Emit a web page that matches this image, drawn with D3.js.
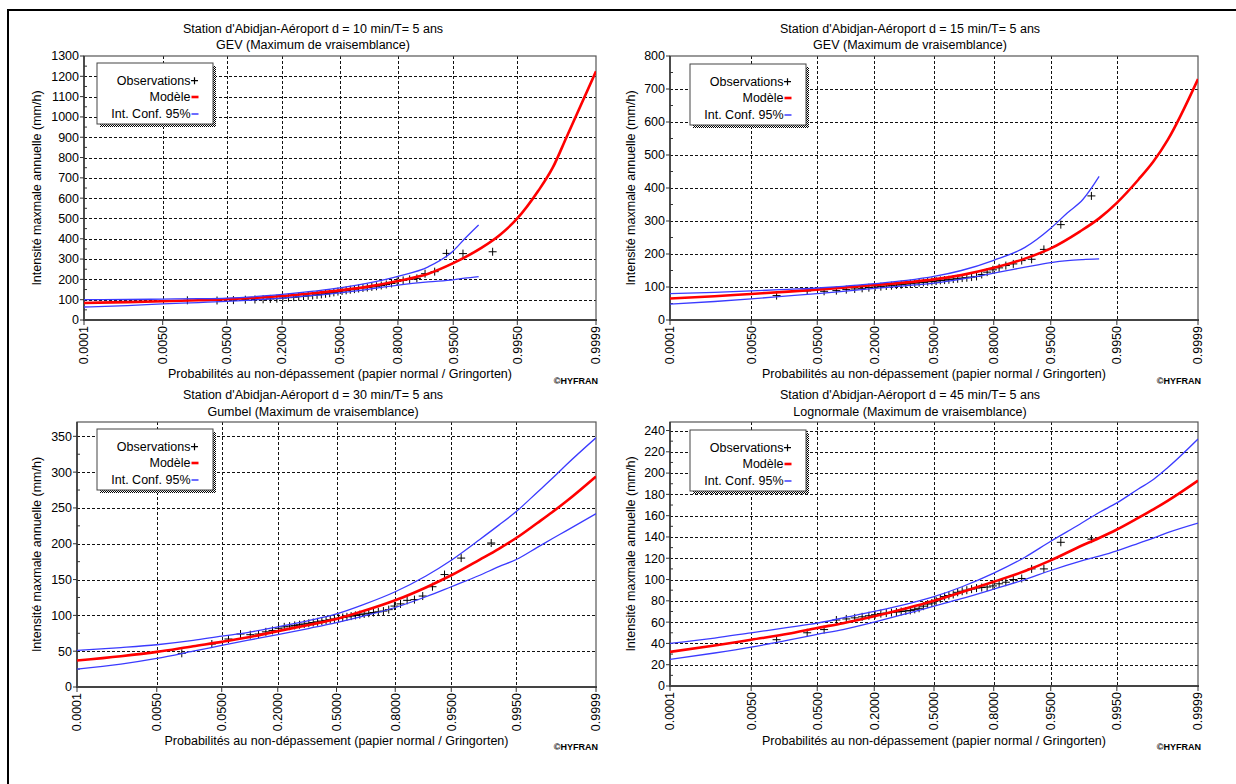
<!DOCTYPE html>
<html><head><meta charset="utf-8">
<script src="https://cdn.jsdelivr.net/npm/d3@7"></script>
<style>
body{margin:0;background:#fff;}
svg{display:block;}
text{font-family:"Liberation Sans",Arial,sans-serif;fill:#000;}
</style>
</head><body>
<svg id="c" width="1236" height="784"></svg>
<script>
// ---------- DATA ----------
const probTicks = [0.0001, 0.005, 0.05, 0.2, 0.5, 0.8, 0.95, 0.995, 0.9999];
const probTickLabels = ["0.0001","0.0050","0.0500","0.2000","0.5000","0.8000","0.9500","0.9950","0.9999"];

// probabilities where the model / confidence curves were read
const curveProbs = [0.0001, 0.001, 0.005, 0.02, 0.05, 0.1, 0.2, 0.35, 0.5, 0.65, 0.8, 0.9, 0.95, 0.98, 0.99, 0.995, 0.998, 0.999, 0.9995, 0.9999];
// Gringorten plotting positions of the 42 observations
const obsProbs = [0.0133, 0.0370, 0.0608, 0.0845, 0.1083, 0.1320, 0.1557, 0.1795, 0.2032, 0.2270, 0.2507, 0.2745, 0.2982, 0.3219, 0.3457, 0.3694, 0.3932, 0.4169, 0.4406, 0.4644, 0.4881, 0.5119, 0.5356, 0.5594, 0.5831, 0.6068, 0.6306, 0.6543, 0.6781, 0.7018, 0.7255, 0.7493, 0.7730, 0.7968, 0.8205, 0.8443, 0.8680, 0.8917, 0.9155, 0.9392, 0.9630, 0.9867];

// d = 10 min, GEV
const title10 = ["Station d'Abidjan-Aéroport d = 10 min/T= 5 ans", "GEV (Maximum de vraisemblance)"];
const yTicks10 = [0,100,200,300,400,500,600,700,800,900,1000,1100,1200,1300];
const model10 = [84, 88, 92, 97, 102, 108, 118, 132, 146, 163, 192, 228, 280, 355, 420, 500, 635, 750, 900, 1225];
const ciProbs10 = [0.0001, 0.001, 0.005, 0.02, 0.05, 0.1, 0.2, 0.35, 0.5, 0.65, 0.8, 0.9, 0.95, 0.965, 0.978];
const upper10 = [100, 101, 103, 105, 108, 114, 126, 142, 158, 180, 215, 262, 340, 400, 468];
const lower10 = [64, 71, 79, 86, 92, 98, 108, 121, 134, 150, 172, 188, 198, 206, 214];
const obs10 = [97, 96, 98, 100, 101, 102, 104, 105, 108, 110, 112, 115, 117, 119, 121, 124, 126, 129, 132, 136, 140, 143, 146, 149, 152, 155, 158, 160, 163, 166, 170, 175, 180, 190, 195, 200, 205, 228, 238, 328, 327, 336];

// d = 15 min, GEV
const title15 = ["Station d'Abidjan-Aéroport d = 15 min/T= 5 ans", "GEV (Maximum de vraisemblance)"];
const yTicks15 = [0,100,200,300,400,500,600,700,800];
const model15 = [65, 72, 79, 86, 92, 98, 106, 114, 123, 136, 158, 186, 217, 268, 308, 355, 425, 480, 545, 730];
const ciProbs15 = [0.0001, 0.001, 0.005, 0.02, 0.05, 0.1, 0.2, 0.35, 0.5, 0.65, 0.8, 0.9, 0.95, 0.97, 0.982, 0.99];
const upper15 = [80, 84, 88, 93, 97, 102, 110, 120, 132, 150, 181, 220, 278, 325, 365, 435];
const lower15 = [48, 56, 64, 73, 80, 87, 96, 104, 112, 124, 142, 160, 174, 180, 183, 185];
const obs15 = [74, 88, 87, 89, 92, 94, 96, 98, 100, 101, 103, 104, 106, 107, 109, 110, 112, 113, 114, 116, 117, 118, 120, 121, 122, 124, 125, 127, 128, 130, 132, 138, 145, 152, 158, 165, 170, 180, 184, 214, 289, 376];

// d = 30 min, Gumbel
const title30 = ["Station d'Abidjan-Aéroport d = 30 min/T= 5 ans", "Gumbel (Maximum de vraisemblance)"];
const yTicks30 = [0,50,100,150,200,250,300,350];
const model30 = [37, 43, 49, 57, 63, 69, 78, 87, 95, 106, 121, 139, 156, 178, 193, 208, 229, 244, 259, 294];
const upper30 = [51, 55, 59, 65, 71, 76, 84, 93, 102, 115, 133, 155, 177, 206, 226, 245, 272, 291, 310, 348];
const lower30 = [25, 32, 40, 50, 58, 65, 73, 82, 90, 99, 111, 126, 140, 156, 168, 178, 195, 207, 218, 242];
const obs30 = [47, 60, 67, 74, 73, 74, 77, 79, 82, 84, 85, 86, 87, 88, 89, 90, 91, 92, 93, 94, 95, 96, 97, 98, 99, 100, 101, 102, 103, 104, 105, 106, 108, 113, 116, 121, 122, 127, 140, 157, 180, 201];

// d = 45 min, Lognormale
const title45 = ["Station d'Abidjan-Aéroport d = 45 min/T= 5 ans", "Lognormale (Maximum de vraisemblance)"];
const yTicks45 = [0,20,40,60,80,100,120,140,160,180,200,220,240];
const model45 = [32, 38, 43.5, 49, 54.5, 59, 65.5, 73, 80, 88, 98, 108, 118, 131, 139, 147, 158, 166, 174, 193];
const upper45 = [40, 45, 50, 55, 59, 64, 70, 77, 84, 93, 106, 121, 136, 152, 163, 172, 185, 194, 205, 232];
const lower45 = [25, 31, 36.5, 43, 48.5, 53, 60, 68, 75, 82, 91, 100, 108.5, 117, 122, 127, 134, 139, 144, 153];
const obs45 = [43.5, 50, 53, 62, 63, 64, 65, 66, 67, 68, 68.5, 69, 69.5, 70, 70.5, 71, 72, 73, 75, 77, 78, 80, 82, 84, 85, 86, 88, 89, 90, 91, 92, 92.5, 93, 94, 96, 97.5, 100, 101, 110, 110, 135, 138];

const yLabel = "Intensité maxmale annuelle (mm/h)";
const xLabel = "Probabilités au non-dépassement (papier normal / Gringorten)";
const legendLabels = ["Observations", "Modèle", "Int. Conf. 95%"];
const credit = "©HYFRAN";

// ---------- normal-probability paper transform ----------
function probit(p){
  const a=[-3.969683028665376e+01,2.209460984245205e+02,-2.759285104469687e+02,1.383577518672690e+02,-3.066479806614716e+01,2.506628277459239e+00];
  const b=[-5.447609879822406e+01,1.615858368580409e+02,-1.556989798598866e+02,6.680131188771972e+01,-1.328068155288572e+01];
  const c=[-7.784894002430293e-03,-3.223964580411365e-01,-2.400758277161838e+00,-2.549732539343734e+00,4.374664141464968e+00,2.938163982698783e+00];
  const d=[7.784695709041462e-03,3.224671290700398e-01,2.445134137142996e+00,3.754408661907416e+00];
  const pl=0.02425, ph=1-pl;
  let q,r;
  if(p<pl){q=Math.sqrt(-2*Math.log(p));return (((((c[0]*q+c[1])*q+c[2])*q+c[3])*q+c[4])*q+c[5])/((((d[0]*q+d[1])*q+d[2])*q+d[3])*q+1);}
  if(p<=ph){q=p-0.5;r=q*q;return (((((a[0]*r+a[1])*r+a[2])*r+a[3])*r+a[4])*r+a[5])*q/(((((b[0]*r+b[1])*r+b[2])*r+b[3])*r+b[4])*r+1);}
  q=Math.sqrt(-2*Math.log(1-p));return -(((((c[0]*q+c[1])*q+c[2])*q+c[3])*q+c[4])*q+c[5])/((((d[0]*q+d[1])*q+d[2])*q+d[3])*q+1);
}

const svg = d3.select("#c");
// outer frame (only top and left visible in the picture)
svg.append("path").attr("d","M8,790V10H1240").attr("fill","none").attr("stroke","#000").attr("stroke-width",2);

// stipple pattern for legend shadow
const defs = svg.append("defs");
const pat = defs.append("pattern").attr("id","stip").attr("width",2).attr("height",2).attr("patternUnits","userSpaceOnUse");
pat.append("rect").attr("width",2).attr("height",2).attr("fill","#fff");
pat.append("rect").attr("width",1).attr("height",1).attr("fill","#000");
pat.append("rect").attr("x",1).attr("y",1).attr("width",1).attr("height",1).attr("fill","#000");

const panels = [
  {id:"p10", title:title10, yTicks:yTicks10, yMax:1300, model:model10, ciProbs:ciProbs10, upper:upper10, lower:lower10, obs:obs10,
   x0:84, x1:596, yTop:56, yBot:320, titleX:313, t1:32.5, t2:49, xlabY:378, credY:384, credX:598, ylabX:37, leg:[97,63]},
  {id:"p15", title:title15, yTicks:yTicks15, yMax:800, model:model15, ciProbs:ciProbs15, upper:upper15, lower:lower15, obs:obs15,
   x0:670, x1:1198, yTop:56, yBot:320, titleX:910, t1:32.5, t2:49, xlabY:378, credY:384, credX:1201, ylabX:631, leg:[690,64]},
  {id:"p30", title:title30, yTicks:yTicks30, yMax:370, model:model30, ciProbs:curveProbs, upper:upper30, lower:lower30, obs:obs30,
   x0:77, x1:596, yTop:422, yBot:687, titleX:313, t1:399, t2:415.5, xlabY:744.5, credY:750, credX:598, ylabX:37, leg:[97,429]},
  {id:"p45", title:title45, yTicks:yTicks45, yMax:248, model:model45, ciProbs:curveProbs, upper:upper45, lower:lower45, obs:obs45,
   x0:670, x1:1198, yTop:422, yBot:686, titleX:910, t1:399, t2:415.5, xlabY:744.5, credY:750, credX:1201, ylabX:631, leg:[690,430]}
];

const zLim = probit(0.9999);

panels.forEach(P => {
  const g = svg.append("g");
  const xs = d3.scaleLinear().domain([-zLim, zLim]).range([P.x0, P.x1]);
  const x = p => xs(probit(p));
  const y = d3.scaleLinear().domain([0, P.yMax]).range([P.yBot, P.yTop]);

  defs.append("clipPath").attr("id","clip-"+P.id).append("rect")
    .attr("x",P.x0).attr("y",P.yTop).attr("width",P.x1-P.x0).attr("height",P.yBot-P.yTop);

  // titles
  g.append("text").attr("x",P.titleX).attr("y",P.t1).attr("text-anchor","middle").attr("font-size",12.5).text(P.title[0]);
  g.append("text").attr("x",P.titleX).attr("y",P.t2).attr("text-anchor","middle").attr("font-size",12.5).text(P.title[1]);

  // grid
  const grid = g.append("g").attr("stroke","#111").attr("stroke-width",1).attr("stroke-dasharray","3,2");
  P.yTicks.filter(v => v>0 && y(v) > P.yTop+1).forEach(v => {
    grid.append("line").attr("x1",P.x0).attr("x2",P.x1).attr("y1",Math.round(y(v))+0.5).attr("y2",Math.round(y(v))+0.5);
  });
  probTicks.slice(1,-1).forEach(p => {
    grid.append("line").attr("x1",Math.round(x(p))+0.5).attr("x2",Math.round(x(p))+0.5).attr("y1",P.yTop).attr("y2",P.yBot);
  });

  // frame of plot area
  g.append("rect").attr("x",P.x0).attr("y",P.yTop).attr("width",P.x1-P.x0).attr("height",P.yBot-P.yTop)
    .attr("fill","none").attr("stroke","#555").attr("stroke-width",1.2);
  g.append("line").attr("x1",P.x0).attr("x2",P.x0).attr("y1",P.yTop).attr("y2",P.yBot+1).attr("stroke","#333").attr("stroke-width",1.5);
  g.append("line").attr("x1",P.x0).attr("x2",P.x1+1).attr("y1",P.yBot).attr("y2",P.yBot).attr("stroke","#444").attr("stroke-width",2);

  // y axis ticks + labels
  const yAx = g.append("g");
  P.yTicks.forEach(v => {
    const yy = y(v);
    yAx.append("line").attr("x1",P.x0-4).attr("x2",P.x0).attr("y1",yy).attr("y2",yy).attr("stroke","#333");
    yAx.append("text").attr("x",P.x0-5).attr("y",yy).attr("dy","0.35em").attr("text-anchor","end").attr("font-size",12.5).text(v);
  });
  // minor ticks at half steps
  const step = P.yTicks[1]-P.yTicks[0];
  P.yTicks.forEach(v => {
    const m = v + step/2;
    if (m < P.yMax) yAx.append("line").attr("x1",P.x0).attr("x2",P.x0+3).attr("y1",y(m)).attr("y2",y(m)).attr("stroke","#333");
  });

  // x axis ticks + rotated labels
  const xAx = g.append("g");
  probTicks.forEach((p,i) => {
    const xx = x(p);
    xAx.append("line").attr("x1",xx).attr("x2",xx).attr("y1",P.yBot).attr("y2",P.yBot+5).attr("stroke","#333");
    xAx.append("text").attr("transform",`translate(${xx},${P.yBot+6}) rotate(-90)`)
      .attr("dy","0.35em").attr("text-anchor","end").attr("font-size",12.5).text(probTickLabels[i]);
  });

  // axis titles
  g.append("text").attr("transform",`translate(${P.ylabX},${(P.yTop+P.yBot)/2}) rotate(-90)`)
    .attr("dy","0.35em").attr("text-anchor","middle").attr("font-size",12.5).text(yLabel);
  g.append("text").attr("x",(P.x0+P.x1)/2).attr("y",P.xlabY).attr("text-anchor","middle").attr("font-size",12.5).text(xLabel);
  g.append("text").attr("x",P.credX).attr("y",P.credY).attr("text-anchor","end").attr("font-size",9).attr("font-weight","bold").text(credit);

  // data
  const plot = g.append("g").attr("clip-path",`url(#clip-${P.id})`);
  const line = d3.line().x(d => x(d[0])).y(d => y(d[1])).curve(d3.curveMonotoneX);

  plot.append("g").selectAll("path").data(P.obs.map((v,i)=>[obsProbs[i],v])).join("path")
    .attr("d", d => `M${x(d[0])-4},${y(d[1])}h8M${x(d[0])},${y(d[1])-4}v8`)
    .attr("stroke","#000").attr("stroke-width",1).attr("fill","none");

  plot.append("path").attr("d", line(P.model.map((v,i)=>[curveProbs[i],v])))
    .attr("fill","none").attr("stroke","#ff0000").attr("stroke-width",2.6);
  [P.upper, P.lower].forEach(arr => {
    plot.append("path").attr("d", line(arr.map((v,i)=>[P.ciProbs[i],v])))
      .attr("fill","none").attr("stroke","#3b3bff").attr("stroke-width",1.3);
  });

  // legend
  const [lx, ly] = P.leg;
  const lw = 116, lh = 61;
  const lg = g.append("g");
  lg.append("rect").attr("x",lx+3).attr("y",ly+3).attr("width",lw).attr("height",lh).attr("fill","url(#stip)");
  lg.append("rect").attr("x",lx).attr("y",ly).attr("width",lw).attr("height",lh).attr("fill","#fff").attr("stroke","#444").attr("stroke-width",1);
  const rows = [17.7, 34, 51];
  legendLabels.forEach((t,i) => {
    lg.append("text").attr("x",lx+93.5).attr("y",ly+rows[i]).attr("dy","0.35em").attr("text-anchor","end").attr("font-size",12.5).text(t);
  });
  lg.append("path").attr("d",`M${lx+94},${ly+rows[0]}h7M${lx+97.5},${ly+rows[0]-3.5}v7`).attr("stroke","#000").attr("stroke-width",1.2);
  lg.append("line").attr("x1",lx+94.5).attr("x2",lx+101.5).attr("y1",ly+rows[1]).attr("y2",ly+rows[1]).attr("stroke","#ff0000").attr("stroke-width",2.6);
  lg.append("line").attr("x1",lx+94.5).attr("x2",lx+101.5).attr("y1",ly+rows[2]).attr("y2",ly+rows[2]).attr("stroke","#3b3bff").attr("stroke-width",1.5);
});
</script>
</body></html>
